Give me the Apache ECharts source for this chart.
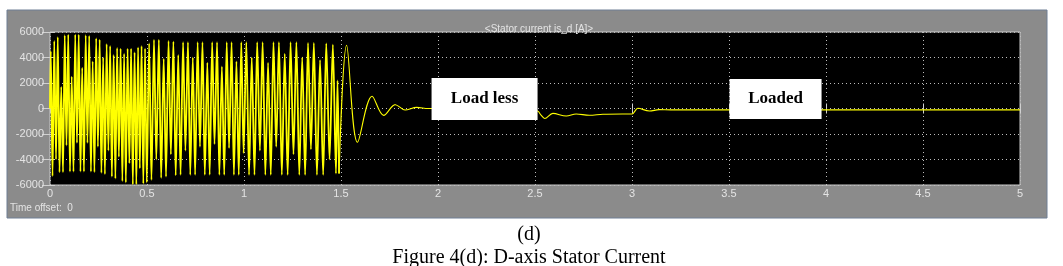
<!DOCTYPE html>
<html>
<head>
<meta charset="utf-8">
<script src="https://cdn.jsdelivr.net/npm/echarts@6/dist/echarts.min.js"></script>
<style>
html,body{margin:0;padding:0;background:#fff;}
#chart{width:1063px;height:266px;}
</style>
</head>
<body>
<div id="chart"></div>
<script>
// ---- data ----
// Run-up phase 0 - 0.5 s: alternating extrema of the d-axis current (time s, current A)
const runUpAT = [0.000,0.004,0.013,0.022,0.031,0.040,0.049,0.058,0.067,0.076,0.085,0.094,0.103,0.112,0.121,0.130,0.139,0.148,0.157,0.166,0.175,0.184,0.193,0.202,0.211,0.220,0.229,0.238,0.247,0.256,0.265,0.274,0.283,0.292,0.301,0.310,0.319,0.328,0.337,0.346,0.355,0.364,0.373,0.382,0.391,0.400,0.409,0.418,0.427,0.436,0.445,0.454,0.463,0.472,0.481,0.490,0.499];
const runUpAI = [0,4500,-5300,5300,-4000,5600,-5000,1700,-5000,5750,-2900,5800,-4950,2500,-4950,5800,-2700,5800,-4950,3200,-4950,5750,-2700,5700,-4950,3700,-5000,5500,-3000,5400,-5050,4000,-5150,5050,-3300,4900,-5350,4200,-5500,4750,-3800,4700,-5700,4300,-5800,4700,-4300,4700,-5950,4400,-5950,4800,-4700,4900,-5900,4700,-5800];
// Run-up phase 0.5 - 1.0 s
const runUpBT = [0.511,0.523,0.536,0.548,0.561,0.573,0.586,0.598,0.611,0.623,0.636,0.648,0.661,0.673,0.686,0.698,0.711,0.723,0.736,0.748,0.761,0.773,0.786,0.798,0.811,0.823,0.836,0.848,0.861,0.873,0.886,0.898,0.911,0.923,0.936,0.948,0.961,0.973,0.986,0.998];
const runUpBI = [5100,-5600,5400,-4000,5400,-5450,3900,-5350,5300,-3600,5250,-5250,4200,-5200,5200,-3300,5200,-5200,4000,-5200,5200,-3000,5200,-5200,3600,-5200,5200,-2800,5200,-5200,3300,-5200,5200,-3100,5200,-5200,3700,-5200,5200,-3500];
// Run-up phase 1.0 - 1.5 s
const runUpCT = [1.012,1.026,1.040,1.054,1.068,1.082,1.096,1.110,1.124,1.138,1.152,1.166,1.180,1.195,1.210,1.225,1.240,1.255,1.270,1.285,1.300,1.315,1.330,1.345,1.360,1.376,1.392,1.408,1.424,1.441,1.458,1.474,1.482,1.490];
const runUpCI = [5200,-5200,4000,-5200,5200,-3300,5200,-5200,3600,-5200,5200,-3000,5200,-5200,4300,-5200,5200,-3600,5200,-5200,4000,-5200,5150,-3200,5150,-5200,3800,-5200,5100,-4000,5000,-5100,2200,-5100];
// Damped transient, load-less and loaded steady state
const settleT = [1.529,1.585,1.660,1.720,1.780,1.830,1.890,1.950,2.000,2.200,2.400,2.513,2.530,2.550,2.592,2.661,2.712,2.780,2.850,2.950,3.000,3.030,3.090,3.140,3.200,3.500,4.000,4.500,5.000];
const settleI = [4960,-2650,960,-540,300,-120,90,0,0,-50,-100,-200,-500,-780,-380,-590,-430,-530,-450,-430,-430,15,-200,-90,-110,-110,-110,-110,-110];

const xTicks = [0,0.5,1,1.5,2,2.5,3,3.5,4,4.5,5];
const yTicks = [-6000,-4000,-2000,0,2000,4000,6000];
const notes = [
  {name:'Load less', t:2.24, i:740},
  {name:'Loaded', t:3.74, i:740}
];

const runUp = [];
[[runUpAT,runUpAI],[runUpBT,runUpBI],[runUpCT,runUpCI]].forEach(([ts,vs])=>{
  ts.forEach((t,k)=>runUp.push([t, vs[k]]));
});
const settle = [runUp[runUp.length-1]];
settleT.forEach((t,k)=>settle.push([t, settleI[k]]));

const chart = echarts.init(document.getElementById('chart'), null, {renderer:'canvas'});
const labelColor = '#e4e4e4';
const sans = '"Liberation Sans", Arial, sans-serif';
const serif = '"Liberation Serif", "Times New Roman", serif';

chart.setOption({
  animation:false,
  backgroundColor:'#ffffff',
  graphic:{elements:[
    {type:'rect', z:-100, shape:{x:7,y:10,width:1040,height:208}, style:{fill:'#8b8b8b', stroke:'#6f7f95', lineWidth:1}},
    {type:'text', z:5, left:10, top:203, style:{text:'Time offset:  0', fill:labelColor, font:'10px '+sans}}
  ]},
  title:[
    {text:'<Stator current is_d [A]>', left:534, top:19, textAlign:'center', textStyle:{color:labelColor, fontSize:10, fontWeight:'normal', fontFamily:sans}},
    {text:'(d)', left:524, top:220, textAlign:'center', textStyle:{color:'#000', fontSize:20, fontWeight:'normal', fontFamily:serif}},
    {text:'Figure 4(d): D-axis Stator Current', left:524, top:243, textAlign:'center', textStyle:{color:'#000', fontSize:20, fontWeight:'normal', fontFamily:serif}}
  ],
  grid:{left:50, right:43, top:32, bottom:81, show:true, backgroundColor:'#000', borderColor:'#c8c8c8', borderWidth:1},
  xAxis:[{
    type:'value', min:xTicks[0], max:xTicks[xTicks.length-1], interval:0.5,
    axisLine:{show:false},
    axisTick:{show:true, inside:true, length:5, lineStyle:{color:'#d0d0d0'}},
    axisLabel:{color:labelColor, fontSize:11, fontFamily:sans, margin:3, formatter:v=>String(v)},
    splitLine:{show:true, lineStyle:{color:'#bdbdbd', type:[1,3], width:1}}
  },{
    type:'value', position:'top', min:xTicks[0], max:xTicks[xTicks.length-1], interval:0.5,
    axisLine:{show:false}, axisLabel:{show:false},
    axisTick:{show:true, inside:true, length:5, lineStyle:{color:'#d0d0d0'}}, splitLine:{show:false}
  }],
  yAxis:[{
    type:'value', min:yTicks[0], max:yTicks[yTicks.length-1], interval:2000,
    axisLine:{show:false},
    axisTick:{show:true, inside:true, length:5, lineStyle:{color:'#d0d0d0'}},
    axisLabel:{color:labelColor, fontSize:11, fontFamily:sans, margin:6, formatter:v=>String(v)},
    splitLine:{show:true, lineStyle:{color:'#bdbdbd', type:[1,3], width:1}}
  },{
    type:'value', position:'right', min:yTicks[0], max:yTicks[yTicks.length-1], interval:2000,
    axisLine:{show:false}, axisLabel:{show:false},
    axisTick:{show:true, inside:true, length:8, lineStyle:{color:'#d0d0d0'}}, splitLine:{show:false}
  }],
  series:[{
    type:'line', data:runUp, showSymbol:false, symbol:'none',
    smooth:0.3,
    lineStyle:{color:'#ffff00', width:1.8},
    z:3
  },{
    type:'line', data:settle, showSymbol:false, symbol:'none',
    smooth:0.35,
    lineStyle:{color:'#ffff00', width:1.1},
    z:3,
    markPoint:{
      silent:true,
      symbol:'rect',
      itemStyle:{color:'#ffffff'},
      label:{show:true, position:'inside', color:'#000', fontFamily:serif, fontWeight:'bold', fontSize:17},
      data:notes.map((n,k)=>({name:n.name, coord:[n.t,n.i], symbolSize:k===0?[106,42]:[92,40], label:{formatter:n.name}}))
    }
  }]
});
</script>
</body>
</html>
